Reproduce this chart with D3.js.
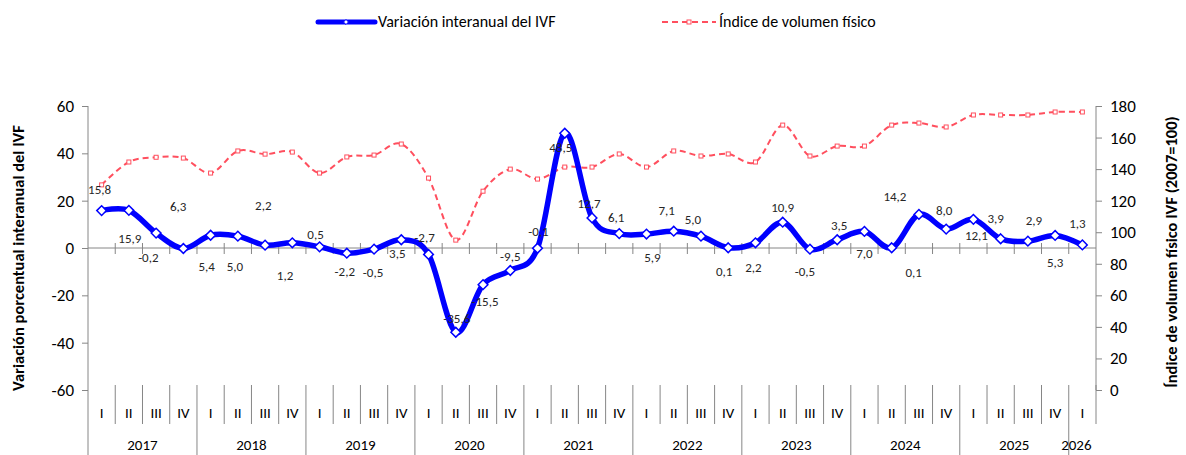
<!DOCTYPE html>
<html>
<head>
<meta charset="utf-8">
<script src="https://cdn.jsdelivr.net/npm/d3@7"></script>
<style>
  body { margin: 0; background: #fff; }
  svg { font-family: Carlito, Lato, "Open Sans", sans-serif; }
  .tick-label { font-size: 17px; fill: #000; }
  .cat-label { font-size: 15px; fill: #000; }
  .data-label { font-size: 13px; fill: #262626; }
  .axis-title { font-size: 16.5px; font-weight: bold; fill: #000; }
  .legend-text { font-size: 16px; fill: #000; }
</style>
</head>
<body>
<div id="chart"></div>
<script>
// Data
var years = ['2017', '2018', '2019', '2020', '2021', '2022', '2023', '2024', '2025', '2026'];
var quarterNames = ['I', 'II', 'III', 'IV'];
var quarterCount = 37;

var variacion = [15.8, 15.9, 6.3, -0.2, 5.4, 5.0, 1.2, 2.2, 0.5, -2.2, -0.5, 3.5,
    -2.7, -35.6, -15.5, -9.5, -0.1, 48.5, 12.7, 6.1, 5.9, 7.1, 5.0, 0.1,
    2.2, 10.9, -0.5, 3.5, 7.0, 0.1, 14.2, 8.0, 12.1, 3.9, 2.9, 5.3, 1.3];

var indice = [130, 144.5, 147.5, 147, 137.5, 151.5, 149.5, 150.8, 137.5, 147.7, 148.9, 155.9,
    134.3, 95, 126, 140, 133.7, 141.3, 141.3, 149.6, 141.3, 151.5, 148.3, 149.6,
    144.5, 167.9, 148.3, 154.6, 154.6, 167.9, 169.2, 166.7, 174.3, 174.3, 174.3, 176.2, 176.2];

var leftTicks = [60, 40, 20, 0, -20, -40, -60];
var rightTicks = [180, 160, 140, 120, 100, 80, 60, 40, 20, 0];

// label nudges (px from the point), mimicking the hand-placed labels
var labelNudge = [[-2,-20],[1,30],[22,-25],[-35,10],[-4,33],[-3,32],[20,32],[-29,-36],[-4,-11],
    [-2,20],[-1,25],[-4,15],[-4,-15],[1,-12],[2,18],[0,-13],[1,-15],[-4,16],[-3,-13],[-3,-15],
    [6,25],[-7,-19],[-8,-15],[-4,25],[-2,26],[0,-13],[-5,24],[2,-13],[0,23],[22,26],[-24,-17],
    [-2,-17],[3,18],[-5,-19],[6,-19],[0,28],[-5,-20]];

var width = 1186, height = 455;
var plot = { left: 88, right: 1096, top: 106, bottom: 390 };
var axisColor = '#868686';
var blue = '#0000ff', red = '#ff4f5e';

var svg = d3.select('#chart').append('svg')
    .attr('width', width)
    .attr('height', height);

// Scales
var idx = d3.range(quarterCount);
var x = d3.scaleBand().domain(idx).range([plot.left, plot.right]).padding(0);
var xc = function (i) { return x(i) + x.bandwidth() / 2; };
var yL = d3.scaleLinear().domain([-60, 60]).range([plot.bottom, plot.top]);
var yR = d3.scaleLinear().domain([0, 180]).range([plot.bottom, plot.top]);

// hyphen minus + decimal comma, like the source
var fmt = function (v) { return d3.format('.1f')(v).replace('.', ',').replace('\u2212', '-'); };
var intFmt = function (v) { return String(v); };

// Left axis
var leftAxis = svg.append('g')
    .attr('transform', 'translate(' + plot.left + ',0)')
    .call(d3.axisLeft(yL).tickValues(leftTicks).tickFormat(intFmt)
        .tickSizeInner(6).tickSizeOuter(0).tickPadding(8));
leftAxis.select('.domain').remove();
leftAxis.selectAll('line').attr('stroke', axisColor);
leftAxis.selectAll('text').attr('class', 'tick-label');
leftAxis.attr('font-family', null).attr('font-size', null);
svg.append('line')
    .attr('x1', plot.left).attr('x2', plot.left)
    .attr('y1', plot.top).attr('y2', height)
    .attr('stroke', axisColor);

// Right axis
var rightAxis = svg.append('g')
    .attr('transform', 'translate(' + plot.right + ',0)')
    .call(d3.axisRight(yR).tickValues(rightTicks).tickFormat(intFmt)
        .tickSizeInner(6).tickSizeOuter(0).tickPadding(8));
rightAxis.select('.domain').attr('stroke', axisColor)
    .attr('d', 'M0,' + plot.top + 'V' + plot.bottom);
rightAxis.selectAll('line').attr('stroke', axisColor);
rightAxis.selectAll('text').attr('class', 'tick-label');
rightAxis.attr('font-family', null).attr('font-size', null);

// Horizontal category axis at zero
svg.append('line')
    .attr('x1', plot.left).attr('x2', plot.right)
    .attr('y1', yL(0)).attr('y2', yL(0))
    .attr('stroke', axisColor);
svg.append('g').selectAll('line')
    .data(d3.range(1, quarterCount))
    .enter().append('line')
    .attr('x1', function (i) { return x(i); })
    .attr('x2', function (i) { return x(i); })
    .attr('y1', yL(0) - 5).attr('y2', yL(0) + 6)
    .attr('stroke', axisColor);

// Quarter / year labels at the bottom
var qTop = 385, qBottom = 424;
var sep = svg.append('g');
sep.selectAll('line')
    .data(d3.range(1, quarterCount + 1))
    .enter().append('line')
    .attr('x1', function (i) { return i < quarterCount ? x(i) : plot.right; })
    .attr('x2', function (i) { return i < quarterCount ? x(i) : plot.right; })
    .attr('y1', qTop)
    .attr('y2', function (i) { return (i % 4 === 0 && i < quarterCount) ? height : qBottom; })
    .attr('stroke', axisColor);

svg.append('g').selectAll('text')
    .data(idx)
    .enter().append('text')
    .attr('class', 'cat-label')
    .attr('x', xc)
    .attr('y', 418)
    .attr('text-anchor', 'middle')
    .text(function (i) { return quarterNames[i % 4]; });

svg.append('g').selectAll('text')
    .data(years)
    .enter().append('text')
    .attr('class', 'cat-label')
    .attr('x', function (d, k) {
        var first = k * 4, last = Math.min(first + 3, quarterCount - 1);
        var cx = (x(first) + x(last) + x.bandwidth()) / 2;
        return k === years.length - 1 ? cx - 6 : cx;
    })
    .attr('y', 450)
    .attr('text-anchor', 'middle')
    .text(function (d) { return d; });

// Lines
var curve = d3.curveCardinal.tension(0);
var lineR = d3.line().curve(curve)
    .x(function (d, i) { return xc(i); })
    .y(function (d) { return yR(d); });
var lineL = d3.line().curve(curve)
    .x(function (d, i) { return xc(i); })
    .y(function (d) { return yL(d); });

svg.append('path')
    .datum(indice)
    .attr('d', lineR)
    .attr('fill', 'none')
    .attr('stroke', red)
    .attr('stroke-width', 2)
    .attr('stroke-dasharray', '6,4');
svg.append('g').selectAll('rect')
    .data(indice)
    .enter().append('rect')
    .attr('x', function (d, i) { return xc(i) - 2; })
    .attr('y', function (d) { return yR(d) - 2; })
    .attr('width', 4).attr('height', 4)
    .attr('fill', '#fff')
    .attr('stroke', red)
    .attr('stroke-width', 1);

svg.append('path')
    .datum(variacion)
    .attr('d', lineL)
    .attr('fill', 'none')
    .attr('stroke', blue)
    .attr('stroke-width', 5.5)
    .attr('stroke-linejoin', 'round');
var diamond = d3.symbol().type(d3.symbolDiamond2).size(60);
svg.append('g').selectAll('path')
    .data(variacion)
    .enter().append('path')
    .attr('d', diamond)
    .attr('transform', function (d, i) { return 'translate(' + xc(i) + ',' + yL(d) + ')'; })
    .attr('fill', '#fff')
    .attr('stroke', blue)
    .attr('stroke-width', 1.5);

// Data labels
svg.append('g').selectAll('text')
    .data(variacion)
    .enter().append('text')
    .attr('class', 'data-label')
    .attr('x', function (d, i) { return xc(i) + labelNudge[i][0]; })
    .attr('y', function (d, i) { return yL(d) + labelNudge[i][1]; })
    .attr('text-anchor', 'middle')
    .attr('dominant-baseline', 'middle')
    .text(fmt);

// Axis titles
svg.append('text')
    .attr('class', 'axis-title')
    .attr('transform', 'translate(24,' + 258 + ') rotate(-90)')
    .attr('text-anchor', 'middle')
    .text('Variación porcentual interanual del IVF');
svg.append('text')
    .attr('class', 'axis-title')
    .attr('transform', 'translate(1177,' + 252 + ') rotate(-90)')
    .attr('text-anchor', 'middle')
    .text('Índice de volumen físico IVF (2007=100)');

// Legend
var legend = svg.append('g');
legend.append('line')
    .attr('x1', 318).attr('x2', 375).attr('y1', 22).attr('y2', 22)
    .attr('stroke', blue).attr('stroke-width', 5).attr('stroke-linecap', 'round');
legend.append('path')
    .attr('d', d3.symbol().type(d3.symbolDiamond2).size(16))
    .attr('transform', 'translate(346,22)')
    .attr('fill', '#fff').attr('stroke', blue).attr('stroke-width', 1);
legend.append('text')
    .attr('class', 'legend-text')
    .attr('x', 378).attr('y', 27)
    .text('Variación interanual del IVF');

legend.append('line')
    .attr('x1', 662).attr('x2', 716).attr('y1', 22).attr('y2', 22)
    .attr('stroke', red).attr('stroke-width', 2).attr('stroke-dasharray', '6,4');
legend.append('rect')
    .attr('x', 687).attr('y', 20).attr('width', 4).attr('height', 4)
    .attr('fill', '#fff').attr('stroke', red).attr('stroke-width', 1);
legend.append('text')
    .attr('class', 'legend-text')
    .attr('x', 719).attr('y', 27)
    .text('Índice de volumen físico');
</script>
</body>
</html>
